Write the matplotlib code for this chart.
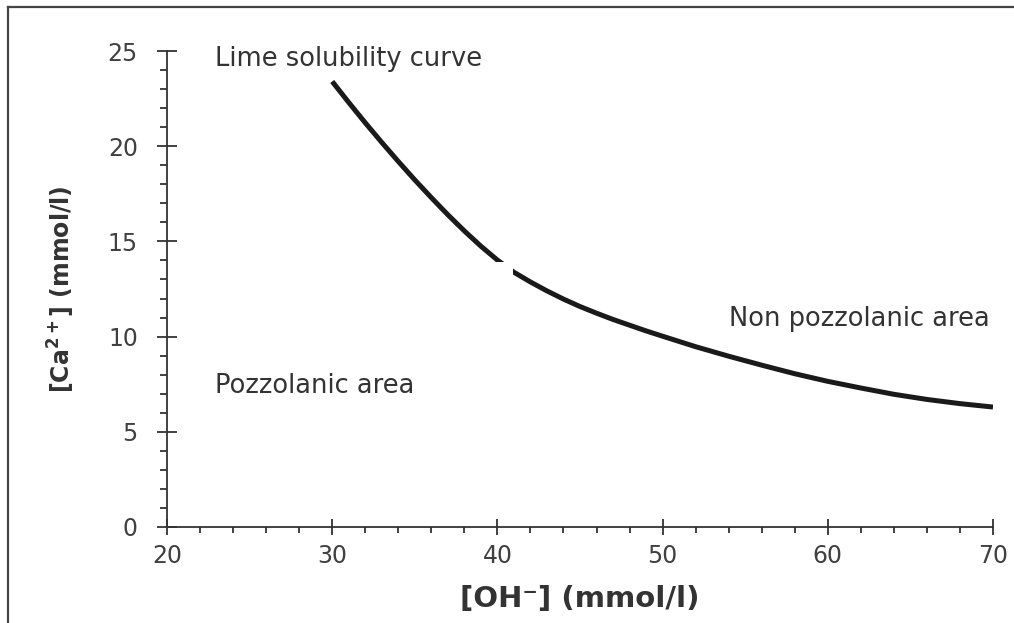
import numpy as np
import matplotlib
matplotlib.use('Agg')
import matplotlib.pyplot as plt
from matplotlib.patches import Rectangle
from matplotlib.lines import Line2D
from matplotlib.ticker import MultipleLocator

# lime solubility curve, read point by point
oh = [30, 31, 32, 33, 34, 35, 36, 37, 38, 39, 40, 41, 42, 43, 44, 45, 46,
      47, 48, 49, 50, 52, 54, 56, 58, 60, 62, 64, 66, 68, 70]
ca = [23.4, 22.3, 21.23, 20.2, 19.2, 18.23, 17.3, 16.4, 15.55, 14.75, 14.02,
      13.38, 12.87, 12.4, 11.97, 11.58, 11.23, 10.9, 10.6, 10.3, 10.02, 9.47,
      8.97, 8.5, 8.05, 7.65, 7.3, 6.97, 6.7, 6.48, 6.3]

xlabel = '[OH\u207b] (mmol/l)'
ylabel = '[Ca$^{\\mathregular{2+}}$] (mmol/l)'
notes = [('Lime solubility curve', 22.9, 24.6),
         ('Pozzolanic area', 22.9, 7.4),
         ('Non pozzolanic area', 54.0, 10.9)]

plt.rcParams['font.family'] = ['DejaVu Sans']
ink = '#333333'

fig = plt.figure(figsize=(10.14, 6.23), dpi=100)
ax = fig.add_axes([0.1647, 0.1541, 0.8146, 0.764])

ax.plot(oh, ca, color='#1a1a1a', lw=3.6, solid_capstyle='butt',
        solid_joinstyle='round', zorder=3)
# small white break in the curve
ax.add_patch(Rectangle((39.5, 12.7), 1.45, 1.22, facecolor='white',
                       edgecolor='none', zorder=4))

for txt, x, y in notes:
    ax.text(x, y, txt, fontsize=18.5, color=ink, va='center', ha='left')

ax.set_xlim(20, 70)
ax.set_ylim(0, 25)
ax.xaxis.set_major_locator(MultipleLocator(10))
ax.xaxis.set_minor_locator(MultipleLocator(2))
ax.yaxis.set_major_locator(MultipleLocator(5))
ax.yaxis.set_minor_locator(MultipleLocator(1))
for s in ('top', 'right'):
    ax.spines[s].set_visible(False)
for s in ('left', 'bottom'):
    ax.spines[s].set_color(ink)
    ax.spines[s].set_linewidth(1.3)
ax.tick_params(axis='y', which='major', direction='inout', length=14,
               width=1.3, color=ink, labelsize=17, labelcolor='#404040', pad=14)
ax.tick_params(axis='x', which='major', direction='inout', length=11,
               width=1.3, color=ink, labelsize=17, labelcolor='#404040', pad=7)
ax.tick_params(axis='y', which='minor', direction='out', length=5,
               width=1.3, color=ink)
ax.tick_params(axis='x', which='minor', direction='out', length=4.5,
               width=1.3, color=ink)

ax.set_xlabel(xlabel, fontsize=21, fontweight='bold', color=ink, labelpad=12)
ax.set_ylabel(ylabel, fontsize=17, fontweight='bold', color=ink, labelpad=22)

# outer frame (left and top edges)
fig.add_artist(Line2D([8 / 1014, 8 / 1014], [0, 1 - 7 / 623],
                      color='#444444', lw=1.6))
fig.add_artist(Line2D([8 / 1014, 1], [1 - 7 / 623, 1 - 7 / 623],
                      color='#444444', lw=1.6))

fig.savefig('out.png', dpi=100)
